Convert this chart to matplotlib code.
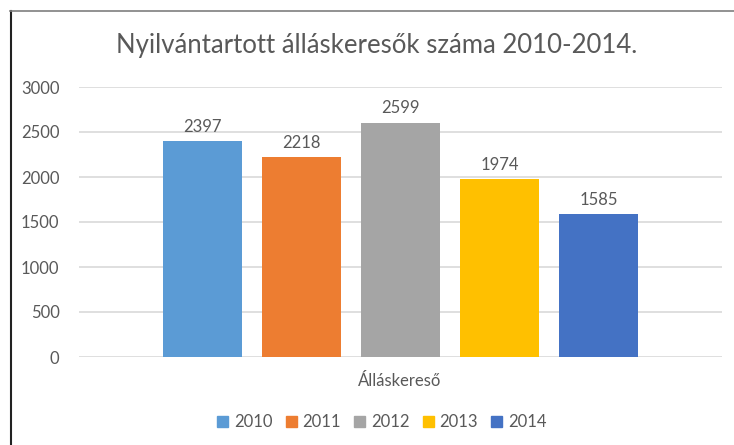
import matplotlib.pyplot as plt
from matplotlib.lines import Line2D
from matplotlib.patches import Patch

plt.rcParams['font.family'] = ['Lato', 'DejaVu Sans']

# data
years = ["2010", "2011", "2012", "2013", "2014"]
values = [2397, 2218, 2599, 1974, 1585]
colors = ["#5b9bd5", "#ed7d31", "#a5a5a5", "#ffc000", "#4472c4"]
category = "Álláskereső"
title = "Nyilvántartott álláskeresők száma 2010-2014."

text_col = "#595959"

fig = plt.figure(figsize=(7.34, 4.45), dpi=100)
ax = fig.add_axes([79 / 734, 1 - 357 / 445, 643 / 734, 270 / 445])

xs = list(range(len(years)))
bars = ax.bar(xs, values, width=0.79, color=colors, zorder=3)
for x, v in zip(xs, values):
    ax.text(x, v + 75, str(v), ha="center", va="bottom", fontsize=12, color=text_col)

half = 643 / 99 / 2
ax.set_xlim(2 - half, 2 + half)
ax.set_ylim(0, 3000)
ax.set_yticks(range(0, 3001, 500))
ax.tick_params(axis="y", length=0, labelsize=12, labelcolor=text_col, pad=14)
ax.set_xticks([])
ax.grid(axis="y", color="#d9d9d9", linewidth=1.2, zorder=0)
for s in ax.spines.values():
    s.set_visible(False)

fig.text(400 / 734, 1 - 381 / 445, category, ha="center", va="center",
         fontsize=12, color=text_col)
fig.text(377 / 734, 1 - 46 / 445, title, ha="center", va="center",
         fontsize=18.5, color=text_col)

handles = [Patch(color=c, label=y) for c, y in zip(colors, years)]
fig.legend(handles=handles, loc="center", bbox_to_anchor=(382 / 734, 1 - 422 / 445),
           ncol=5, frameon=False, fontsize=12, handlelength=0.65, handleheight=0.65,
           handletextpad=0.35, columnspacing=0.8, labelcolor=text_col)

# outer frame (left and top edges)
fig.add_artist(Line2D([10.5 / 734, 10.5 / 734], [0, 1 - 11 / 445], color="#222222", linewidth=1.5))
fig.add_artist(Line2D([10 / 734, 1], [1 - 11 / 445, 1 - 11 / 445], color="#7f7f7f", linewidth=1.2))

fig.savefig("out.png", dpi=100)
